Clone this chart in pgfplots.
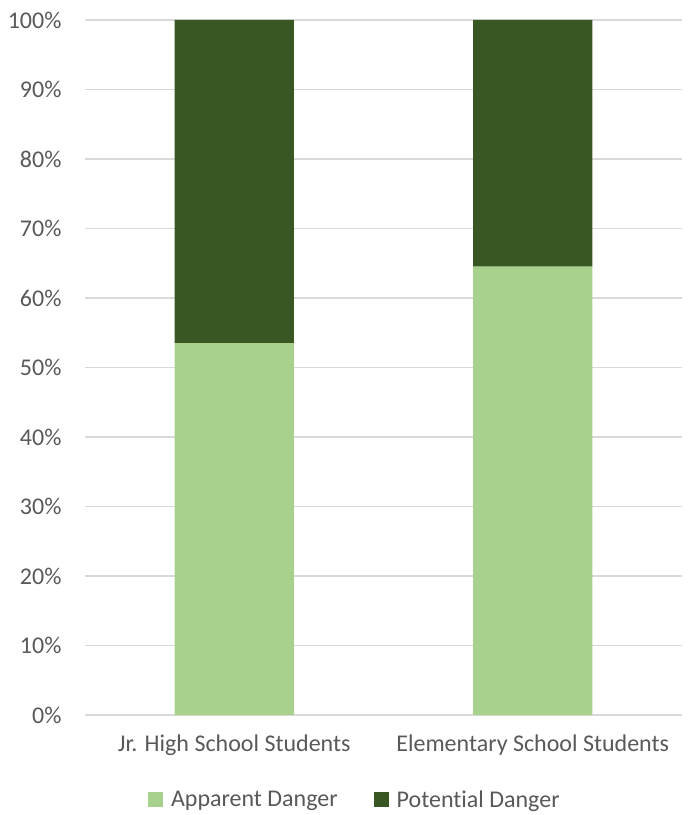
\documentclass[border=0pt]{standalone}
\usepackage{pgfplots}
\pgfplotsset{compat=1.18}
\usepackage{fontspec}
\setmainfont{Carlito}[Ligatures={NoCommon}]
\definecolor{lightg}{HTML}{A9D18E}
\definecolor{darkg}{HTML}{385723}
\definecolor{gridc}{HTML}{D9D9D9}
\definecolor{txt}{HTML}{595959}
\begin{document}
\begin{tikzpicture}
\path[use as bounding box] (-85pt,-100pt) rectangle (607pt,715pt);
\begin{axis}[
  at={(0,0)}, anchor=south west,
  scale only axis, width=597pt, height=695pt,
  ybar stacked, bar width=0.4,
  xmin=-0.5, xmax=1.5, ymin=0, ymax=100,
  xtick={0,1}, xticklabels={Jr. High School Students, Elementary School Students},
  ytick={0,10,...,100},
  yticklabel={\pgfmathprintnumber{\tick}\%},
  /pgf/number format/assume math mode=true,
  ymajorgrids, grid style={gridc, line width=1.5pt},
  axis x line*=bottom, axis y line*=left,
  x axis line style={draw=gridc, line width=1.5pt, -},
  y axis line style={draw=none},
  major tick length=0pt,
  tick label style={font=\fontsize{24}{28}\selectfont, text=txt},
  xticklabel style={yshift=-16pt},
  yticklabel style={xshift=-20pt},
  legend style={at={(0.452,-0.122)}, anchor=center, draw=none, legend columns=2,
    font=\fontsize{24}{28}\selectfont, text=txt,
    /tikz/every even column/.append style={column sep=34pt}},
  legend image code/.code={\fill[#1] (0pt,-7.5pt) rectangle (15pt,7.5pt); \path (21pt,0pt);},
]
\addplot[fill=lightg, draw=none] coordinates {(0,53.5) (1,64.5)};
\addplot[fill=darkg, draw=none] coordinates {(0,46.5) (1,35.5)};
\legend{Apparent Danger, Potential Danger}
\end{axis}
\end{tikzpicture}
\end{document}
